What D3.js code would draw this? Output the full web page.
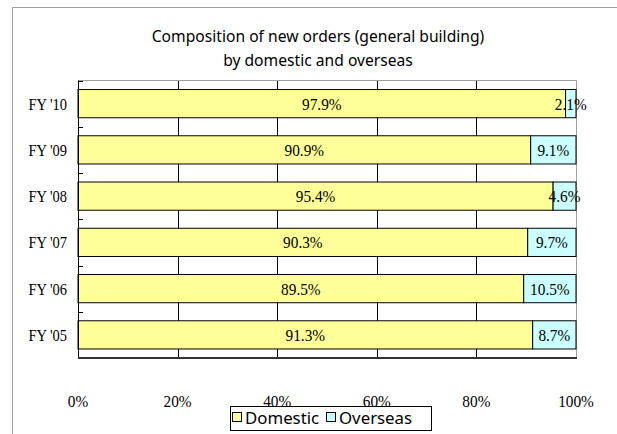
<!DOCTYPE html>
<html>
<head>
<meta charset="utf-8">
<script src="https://cdn.jsdelivr.net/npm/d3@7"></script>
<style>
  body { margin: 0; background: #fff; }
  svg { display: block; }
</style>
</head>
<body>
<div id="chart"></div>
<script>
const years = ["FY '10", "FY '09", "FY '08", "FY '07", "FY '06", "FY '05"]
const domestic = [97.9, 90.9, 95.4, 90.3, 89.5, 91.3]
const overseas = [2.1, 9.1, 4.6, 9.7, 10.5, 8.7]
const seriesNames = ['Domestic', 'Overseas']
const seriesColors = ['#ffff99', '#ccffff']
const xticks = [0, 20, 40, 60, 80, 100]

const W = 617, H = 434
const plot = {left: 78, right: 576, top: 80.5, bottom: 358}

const svg = d3.select('#chart').append('svg')
  .attr('width', W)
  .attr('height', H)

// squeeze / stretch text horizontally to follow the original fonts
function condense(sel, factor) {
  sel.each(function() {
    const w = this.getComputedTextLength()
    d3.select(this).attr('textLength', w * factor).attr('lengthAdjust', 'spacingAndGlyphs')
  })
}

// outer chart frame
svg.append('rect')
  .attr('x', 12.5).attr('y', 7.5)
  .attr('width', 640).attr('height', 460)
  .attr('fill', 'none')
  .attr('stroke', '#a0a0a0')

const sans = "'Noto Sans', 'DejaVu Sans', sans-serif"
const serif = "'Liberation Serif', 'Times New Roman', serif"

// title
const titleLines = ['Composition of new orders (general building)', 'by domestic and overseas']
svg.append('g').selectAll('text')
  .data(titleLines)
  .join('text')
  .attr('x', 318)
  .attr('y', (d, i) => 42 + i * 24)
  .attr('text-anchor', 'middle')
  .style('font-family', sans)
  .style('font-size', '17px')
  .text(d => d)
  .call(condense, 0.92)

const x = d3.scaleLinear().domain([0, 100]).range([plot.left, plot.right])
const y = d3.scaleBand().domain(years).range([plot.top, plot.bottom])
  .paddingInner(0.39).paddingOuter(0.195)

const g = svg.append('g')

// gridlines (only visible between bars)
g.selectAll('line.grid')
  .data(xticks.slice(1, -1))
  .join('line')
  .attr('class', 'grid')
  .attr('x1', d => Math.round(x(d)) + 0.5).attr('x2', d => Math.round(x(d)) + 0.5)
  .attr('y1', plot.top).attr('y2', plot.bottom)
  .attr('stroke', '#000')

// top and right plot border
g.append('path')
  .attr('d', `M${plot.left},${plot.top}H${plot.right + 0.5}V${plot.bottom}`)
  .attr('fill', 'none')
  .attr('stroke', '#a0a0a0')

const rows = years.map((yr, i) => ({yr, vals: [domestic[i], overseas[i]]}))

const row = g.selectAll('g.row')
  .data(rows)
  .join('g')
  .attr('class', 'row')

row.each(function(d) {
  let acc = 0
  const segs = d.vals.map((v, k) => {
    const s = {x0: acc, x1: acc + v, v, k}
    acc += v
    return s
  })
  const sel = d3.select(this)
  sel.selectAll('rect')
    .data(segs)
    .join('rect')
    .attr('x', s => x(s.x0))
    .attr('width', s => x(s.x1) - x(s.x0))
    .attr('y', y(d.yr))
    .attr('height', y.bandwidth())
    .attr('fill', s => seriesColors[s.k])
    .attr('stroke', '#000')
    .attr('stroke-width', 1)
  sel.selectAll('text')
    .data(segs)
    .join('text')
    .attr('x', s => (x(s.x0) + x(s.x1)) / 2)
    .attr('y', y(d.yr) + y.bandwidth() / 2)
    .attr('dy', '0.35em')
    .attr('text-anchor', 'middle')
    .style('font-family', serif)
    .style('font-size', '17px')
    .text(s => s.v.toFixed(1) + '%')
    .call(condense, 0.9)
})

// left axis with ticks at band boundaries
const yAxis = g.append('g')
yAxis.append('line')
  .attr('x1', plot.left + 0.5).attr('x2', plot.left + 0.5)
  .attr('y1', plot.top).attr('y2', plot.bottom)
  .attr('stroke', '#000')
yAxis.selectAll('line.tick')
  .data(d3.range(years.length + 1))
  .join('line')
  .attr('class', 'tick')
  .attr('x1', plot.left).attr('x2', plot.left + 5)
  .attr('y1', i => Math.round(plot.top + i * y.step()) + 0.5)
  .attr('y2', i => Math.round(plot.top + i * y.step()) + 0.5)
  .attr('stroke', '#000')
yAxis.selectAll('text')
  .data(years)
  .join('text')
  .attr('x', 67)
  .attr('y', d => y(d) + y.bandwidth() / 2)
  .attr('dy', '0.35em')
  .attr('text-anchor', 'end')
  .style('font-family', serif)
  .style('font-size', '17px')
  .text(d => d)
  .call(condense, 0.85)

// bottom axis
g.append('line')
  .attr('x1', plot.left).attr('x2', plot.right + 1)
  .attr('y1', plot.bottom).attr('y2', plot.bottom)
  .attr('stroke', '#333')
  .attr('stroke-width', 2)

g.append('g').selectAll('text')
  .data(xticks)
  .join('text')
  .attr('x', d => x(d))
  .attr('y', 401)
  .attr('dy', '0.35em')
  .attr('text-anchor', 'middle')
  .style('font-family', serif)
  .style('font-size', '17px')
  .text(d => d + '%')
  .call(condense, 0.9)

// legend
const legend = svg.append('g')
legend.append('rect')
  .attr('x', 230.5).attr('y', 406.5)
  .attr('width', 201).attr('height', 24)
  .attr('fill', '#fff')
  .attr('stroke', '#000')
const legX = [232, 326]
seriesNames.forEach((name, i) => {
  legend.append('rect')
    .attr('x', legX[i] + 0.5).attr('y', 412.5)
    .attr('width', 9).attr('height', 9)
    .attr('fill', seriesColors[i])
    .attr('stroke', '#000')
  legend.append('text')
    .attr('x', legX[i] + 13)
    .attr('y', 418)
    .attr('dy', '0.35em')
    .style('font-family', sans)
    .style('font-size', '16px')
    .text(name)
    .call(condense, 1.05)
})
</script>
</body>
</html>
